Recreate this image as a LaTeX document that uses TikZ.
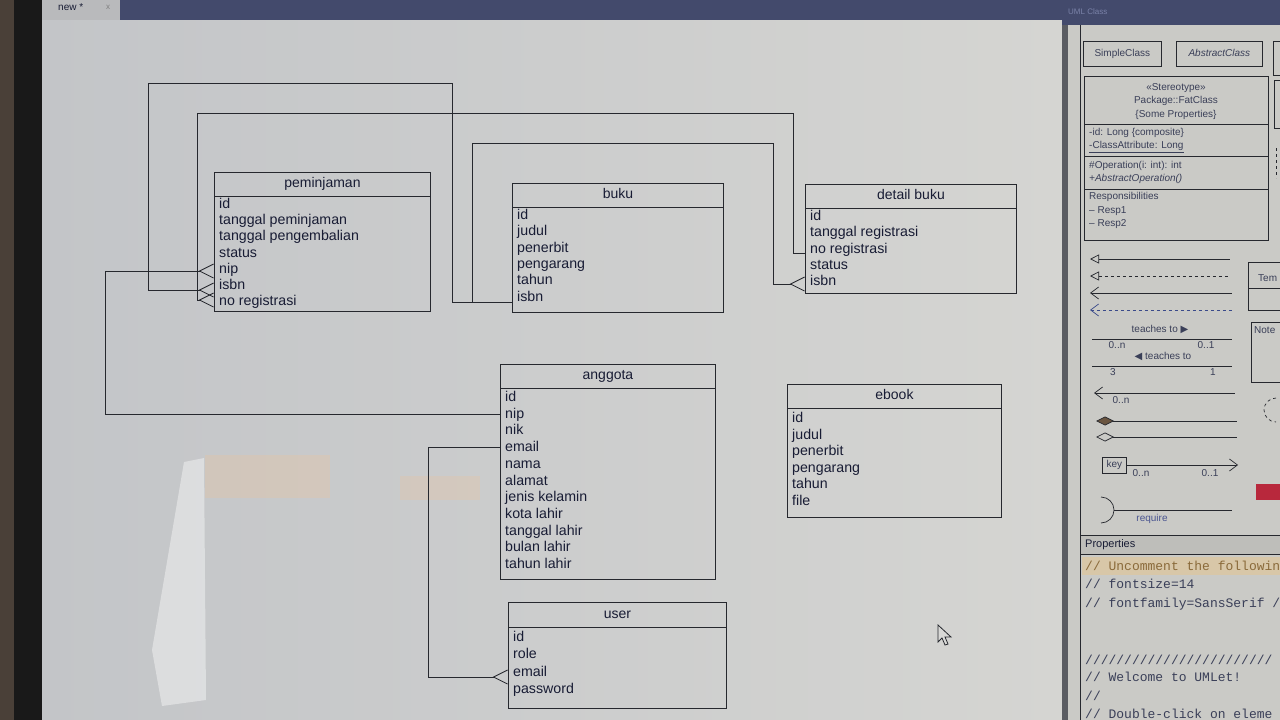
\documentclass[tikz,border=0pt]{standalone}
\usepackage{fontspec}
\setmainfont{Liberation Sans}
\newfontfamily\monofont{Liberation Mono}
\newfontfamily\symfont{DejaVu Sans}
\usetikzlibrary{arrows.meta}
\definecolor{linec}{HTML}{26282E}
\definecolor{txtc}{HTML}{181C34}
\definecolor{canvasL}{HTML}{C3C5C8}
\definecolor{canvasR}{HTML}{D5D5D2}
\definecolor{barc}{HTML}{434A6C}
\definecolor{panelc}{HTML}{CACAC6}
\definecolor{paltxt}{HTML}{3A3F58}
\definecolor{brownedge}{HTML}{4A4038}
\definecolor{tabc}{HTML}{B9BABC}
\definecolor{divc}{HTML}{5A5C62}
\definecolor{ptitlec}{HTML}{7A82A8}
\definecolor{bluedash}{HTML}{3A4A8A}
\definecolor{diamc}{HTML}{6A5540}
\definecolor{reqc}{HTML}{4A5590}
\definecolor{redc}{HTML}{B8283C}
\definecolor{prophead}{HTML}{BEBEBA}
\definecolor{hilite}{HTML}{D8C7A8}
\definecolor{hilitetxt}{HTML}{8A6A3A}
\definecolor{cursorc}{HTML}{D8D8D6}
\newcommand\umlbox[7]{%
  \node[cls, minimum width=#4pt, minimum height=#5pt, anchor=north west] (#1) at (#2,#3) {};
  \draw[clsline] (#1.north west) ++(0,#6) -- ++(#4,0);
  \node[ttl] (#1-t) at ([yshift=-#6pt/2]#1.north) {#7};
}
\newcommand\umlrows[5]{%
  \foreach \t [count=\i] in {#5} {\node[row] (#1-\i) at (#2,{#3+(\i-1)*#4}) {\t};}
}
\begin{document}
\begin{tikzpicture}[x=1pt,y=-1pt,
  cls/.style={draw=linec, line width=0.9pt, inner sep=0pt},
  clsline/.style={draw=linec, line width=0.9pt},
  ttl/.style={font=\fontsize{14}{16}\selectfont, text=txtc, inner sep=0pt, text height=10pt, text depth=3pt},
  row/.style={font=\fontsize{14.2}{16}\selectfont, text=txtc, anchor=west, inner sep=0pt, text height=10pt, text depth=3pt},
  conn/.style={draw=linec, line width=0.8pt},
  crow/.style={-{Straight Barb[reversed,length=14pt,width=14pt,line width=0.8pt]}},
  pal/.style={font=\fontsize{10}{11}\selectfont, text=paltxt, inner sep=0pt, text height=7pt, text depth=2pt},
  palline/.style={draw=linec, line width=0.7pt},
  mono/.style={font=\monofont\fontsize{13}{14}\selectfont, anchor=west, inner sep=0pt, text=#1},
  mono/.default={paltxt}]
\useasboundingbox (0,0) rectangle (1280,720);
% ---------- background ----------
\fill[brownedge] (0,0) rectangle (14,720);
\fill[black!90] (14,0) rectangle (42,720);
\shade[left color=canvasL, right color=canvasR] (42,20) rectangle (1062,720);
\fill[tabc] (42,0) rectangle (120,20);
\node[font=\fontsize{10}{11}\selectfont, text=txtc, anchor=west, inner sep=0pt] (tab) at (58,7) {new *};
\node[font=\fontsize{8}{9}\selectfont, text=gray, anchor=west, inner sep=0pt] (tabx) at (106,7) {x};
\fill[barc] (120,0) rectangle (1062,20);
% glare
\fill[white, opacity=0.4] (184,462) -- (204,458) -- (206,700) -- (162,706) -- (152,650) -- cycle;
\fill[orange!50!white, opacity=0.2] (205,455) rectangle (330,498);
\fill[orange!50!white, opacity=0.18] (400,476) rectangle (480,500);
% ---------- right panel ----------
\fill[divc] (1062,0) rectangle (1068,720);
\fill[panelc] (1068,25) rectangle (1280,720);
\fill[barc] (1062,0) rectangle (1280,25);
\node[font=\fontsize{8}{9}\selectfont, text=ptitlec, anchor=west, inner sep=0pt] (ptitle) at (1068,12) {UML Class};
\draw[linec, line width=0.8pt] (1080,25) -- (1080,720);
% palette elements
\node[draw=linec, line width=0.7pt, minimum width=78pt, minimum height=25pt, pal, anchor=north west] (sc) at (1083,41) {SimpleClass};
\node[draw=linec, line width=0.7pt, minimum width=86pt, minimum height=25pt, pal, anchor=north west] (ac) at (1176,41) {\textit{AbstractClass}};
\draw[palline] (1280,41) -- (1273,41) -- (1273,75) -- (1280,75);
\draw[palline] (1280,80) -- (1274,80) -- (1274,128) -- (1280,128);
\draw[palline, dashed] (1276,148) -- (1276,178);
\node[draw=linec, line width=0.7pt, minimum width=184pt, minimum height=164pt, anchor=north west, inner sep=0pt] (fat) at (1084,76) {};
\draw[palline] (1084,124) -- (1268,124);
\draw[palline] (1084,156) -- (1268,156);
\draw[palline] (1084,189) -- (1268,189);
\node[pal] (f1) at (1176,88) {«Stereotype»};
\node[pal] (f2) at (1176,101) {Package::FatClass};
\node[pal] (f3) at (1176,115) {\{Some Properties\}};
\node[pal, anchor=west] (f4) at (1089,133) {-id: Long \{composite\}};
\node[pal, anchor=west] (f5) at (1089,146) {\underline{-ClassAttribute: Long}};
\node[pal, anchor=west] (f6) at (1089,166) {\#Operation(i: int): int};
\node[pal, anchor=west] (f7) at (1089,179) {\textit{+AbstractOperation()}};
\node[pal, anchor=west] (f8) at (1089,197) {Responsibilities};
\node[pal, anchor=west] (f9) at (1089,211) {-- Resp1};
\node[pal, anchor=west] (f10) at (1089,224) {-- Resp2};
% relations
\coordinate (r1a) at (1090,259); \coordinate (r1b) at (1230,259);
\draw[palline, {Triangle[open,length=9pt,width=9pt]}-] (r1a) -- (r1b);
\coordinate (r2a) at (1090,276); \coordinate (r2b) at (1230,276);
\draw[palline, dashed, {Triangle[open,length=9pt,width=9pt]}-] (r2a) -- (r2b);
\coordinate (r3a) at (1090,293); \coordinate (r3b) at (1232,293);
\draw[palline, {Straight Barb[length=8pt,width=12pt]}-] (r3a) -- (r3b);
\coordinate (r4a) at (1090,310); \coordinate (r4b) at (1232,310);
\draw[palline, draw=bluedash, dashed, {Straight Barb[length=8pt,width=12pt]}-] (r4a) -- (r4b);
\node[pal] (t1) at (1160,330) {teaches to {\symfont ▶}};
\coordinate (r5a) at (1092,339); \coordinate (r5b) at (1232,339);
\draw[palline] (r5a) -- (r5b);
\node[pal] (t2) at (1117,346) {0..n};
\node[pal] (t3) at (1206,346) {0..1};
\node[pal] (t4) at (1163,357) {{\symfont ◀} teaches to};
\coordinate (r6a) at (1092,366); \coordinate (r6b) at (1232,366);
\draw[palline] (r6a) -- (r6b);
\node[pal] (t5) at (1113,373) {3};
\node[pal] (t6) at (1213,373) {1};
\coordinate (r7a) at (1094,393); \coordinate (r7b) at (1235,393);
\draw[palline, {Straight Barb[length=8pt,width=12pt]}-] (r7a) -- (r7b);
\node[pal] (t7) at (1121,401) {0..n};
\coordinate (r8a) at (1096,421); \coordinate (r8b) at (1237,421);
\draw[palline, {Diamond[length=18pt,width=9pt,fill=diamc]}-] (r8a) -- (r8b);
\coordinate (r9a) at (1096,437); \coordinate (r9b) at (1237,437);
\draw[palline, {Diamond[open,length=18pt,width=9pt]}-] (r9a) -- (r9b);
\node[draw=linec, line width=0.6pt, pal, minimum width=24pt, minimum height=16pt, anchor=north west] (key) at (1102,457) {key};
\coordinate (r10b) at (1238,465);
\draw[palline, -{Straight Barb[length=8pt,width=12pt]}] (key.east |- r10b) -- (r10b);
\node[pal] (t8) at (1141,474) {0..n};
\node[pal] (t9) at (1210,474) {0..1};
\draw[palline] (1101,497) arc[start angle=90, end angle=-90, radius=13pt];
\coordinate (r11a) at (1114,510); \coordinate (r11b) at (1232,510);
\draw[palline] (r11a) -- (r11b);
\node[pal, text=reqc] (t10) at (1152,519) {require};
\draw[palline] (1280,262) -- (1248,262) -- (1248,310) -- (1280,310);
\draw[palline] (1248,288) -- (1280,288);
\node[pal, anchor=west] (tem) at (1258,279) {Tem};
\draw[palline] (1280,322) -- (1251,322) -- (1251,382) -- (1280,382);
\node[pal, anchor=west] (note) at (1254,331) {Note};
\draw[palline, dashed] (1276,398) arc[start angle=90, end angle=270, radius=12pt];
\fill[redc] (1256,484) rectangle (1280,500);
% properties
\draw[linec, line width=0.8pt] (1080,535) -- (1280,535);
\fill[prophead] (1081,536) rectangle (1280,554);
\node[font=\fontsize{11}{12}\selectfont, text=txtc, anchor=west, inner sep=0pt] (prop) at (1085,545) {Properties};
\draw[linec, line width=0.6pt] (1080,554) -- (1280,554);
\fill[hilite] (1082,557) rectangle (1280,575);
\node[mono=hilitetxt] (m1) at (1085,566) {// Uncomment the followin};
\node[mono] (m2) at (1085,584) {// fontsize=14};
\node[mono] (m3) at (1085,604) {// fontfamily=SansSerif /};
\node[mono] (m4) at (1085,660) {////////////////////////};
\node[mono] (m5) at (1085,677) {// Welcome to UMLet!};
\node[mono] (m6) at (1085,696) {//};
\node[mono] (m7) at (1085,714) {// Double-click on eleme};
% ---------- UML classes ----------
\umlbox{pem}{214}{172}{216}{139}{24}{peminjaman}
\umlrows{pem}{219}{205}{16.2}{id,tanggal peminjaman,tanggal pengembalian,status,nip,isbn,no registrasi}
\umlbox{buku}{512}{183}{211}{129}{24}{buku}
\umlrows{buku}{517}{216}{16.3}{id,judul,penerbit,pengarang,tahun,isbn}
\umlbox{det}{805}{184}{211}{109}{24}{detail buku}
\umlrows{det}{810}{217}{16.3}{id,tanggal registrasi,no registrasi,status,isbn}
\umlbox{ang}{500}{364}{215}{215}{24}{anggota}
\umlrows{ang}{505}{398}{16.7}{id,nip,nik,email,nama,alamat,jenis kelamin,kota lahir,tanggal lahir,bulan lahir,tahun lahir}
\umlbox{ebk}{787}{384}{214}{133}{24}{ebook}
\umlrows{ebk}{792}{419}{16.5}{id,judul,penerbit,pengarang,tahun,file}
\umlbox{usr}{508}{602}{218}{106}{25}{user}
\umlrows{usr}{513}{638}{17.3}{id,role,email,password}
% ---------- connector end points ----------
\coordinate (bukuIsbn) at (512,302);
\coordinate (pemIsbn) at (214,290);
\coordinate (detIsbn) at (805,284);
\coordinate (detNoreg) at (805,253);
\coordinate (pemNoreg) at (214,300);
\coordinate (angNip) at (500,414);
\coordinate (pemNip) at (214,271);
\coordinate (angEmail) at (500,447);
\coordinate (usrEmail) at (508,677);
% ---------- connectors ----------
\draw[conn, crow] (bukuIsbn) -| (452,83) -| (148,290) -- (pemIsbn);
\draw[conn, crow] (bukuIsbn) -| (472,143) -| (773,284) -- (detIsbn);
\draw[conn, crow] (detNoreg) -| (793,113) -| (197,300) -- (pemNoreg);
\draw[conn, crow] (angNip) -| (105,271) -- (pemNip);
\draw[conn, crow] (angEmail) -| (428,677) -- (usrEmail);
% ---------- mouse cursor ----------
\filldraw[fill=cursorc, draw=linec, line width=0.8pt] (938,625) -- (938,642) -- (942,638) -- (945,645) -- (948,644) -- (945,637) -- (951,637) -- cycle;
\end{tikzpicture}
\end{document}
